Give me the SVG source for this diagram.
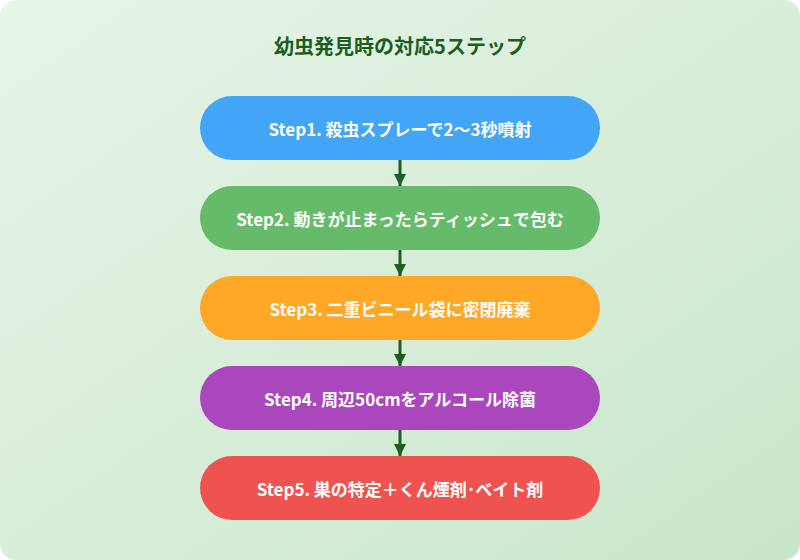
<svg xmlns="http://www.w3.org/2000/svg" width="800" height="560" viewBox="0 0 800 560">
<defs>
<linearGradient id="bg" x1="0" y1="0" x2="1" y2="1"><stop offset="0" stop-color="#e8f5e9"/><stop offset="1" stop-color="#c8e6c9"/></linearGradient>
<marker id="ah" viewBox="0 0 10 10" refX="10" refY="5" markerWidth="4" markerHeight="4" orient="auto"><path d="M0,0 L10,5 L0,10 z" fill="#1b5e20"/></marker>
<style>
.t{font-family:"Noto Sans CJK JP","Noto Sans",sans-serif;font-weight:bold;fill:#fff;font-size:17px;text-anchor:middle;dominant-baseline:central}
.c{stroke:#1b5e20;stroke-width:3;fill:none;marker-end:url(#ah)}
</style>
</defs>
<rect width="800" height="560" rx="16" fill="url(#bg)"/>
<text x="400" y="45" text-anchor="middle" dominant-baseline="central" font-family="Noto Sans CJK JP,sans-serif" font-weight="bold" font-size="20" fill="#1b5e20">幼虫発見時の対応5ステップ</text>
<g id="connectors">
<line class="c" x1="400" y1="160" x2="400" y2="186"/>
<line class="c" x1="400" y1="250" x2="400" y2="276"/>
<line class="c" x1="400" y1="340" x2="400" y2="366"/>
<line class="c" x1="400" y1="430" x2="400" y2="456"/>
</g>
<g id="step1"><rect x="200" y="96" width="400" height="64" rx="32" fill="#42a5f5"/><text class="t" x="400" y="128">Step1. 殺虫スプレーで2〜3秒噴射</text></g>
<g id="step2"><rect x="200" y="186" width="400" height="64" rx="32" fill="#66bb6a"/><text class="t" x="400" y="218">Step2. 動きが止まったらティッシュで包む</text></g>
<g id="step3"><rect x="200" y="276" width="400" height="64" rx="32" fill="#ffa726"/><text class="t" x="400" y="308">Step3. 二重ビニール袋に密閉廃棄</text></g>
<g id="step4"><rect x="200" y="366" width="400" height="64" rx="32" fill="#ab47bc"/><text class="t" x="400" y="398">Step4. 周辺50cmをアルコール除菌</text></g>
<g id="step5"><rect x="200" y="456" width="400" height="64" rx="32" fill="#ef5350"/><text class="t" x="400" y="488">Step5. 巣の特定＋くん煙剤･ベイト剤</text></g>
</svg>
